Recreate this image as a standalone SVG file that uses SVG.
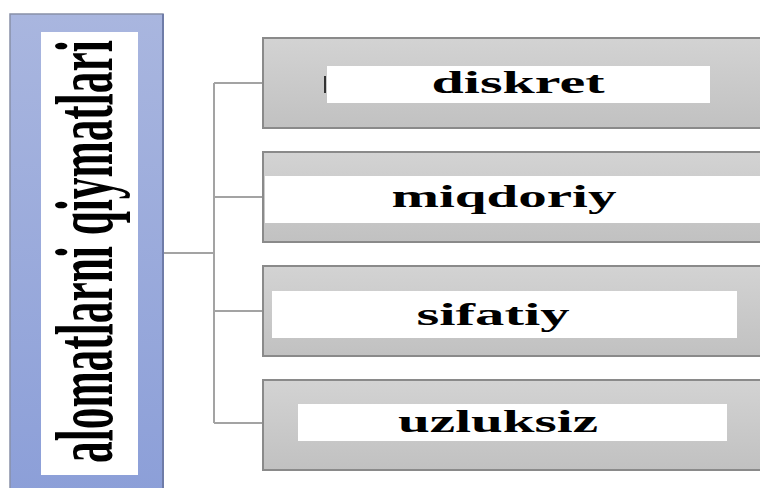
<svg xmlns="http://www.w3.org/2000/svg" width="760" height="488" viewBox="0 0 760 488">
<defs>
<linearGradient id="gBlue" x1="0" y1="0" x2="0" y2="1">
<stop offset="0" stop-color="#a9b6df"/>
<stop offset="1" stop-color="#8c9fd8"/>
</linearGradient>
<linearGradient id="gGray" x1="0" y1="0" x2="0" y2="1">
<stop offset="0" stop-color="#d3d3d3"/>
<stop offset="1" stop-color="#c1c1c1"/>
</linearGradient>
</defs>
<style>
.box{fill:url(#gGray);stroke:#8a8a8a;stroke-width:2}
.lbl{fill:#ffffff}
.t{font-family:"Liberation Serif","Times New Roman",serif;font-weight:bold;font-size:31px;fill:#000;text-anchor:middle}
.conn{fill:none;stroke:#a3a3a3;stroke-width:2}
</style>
<rect width="760" height="488" fill="#ffffff"/>
<g id="connectors">
<path class="conn" d="M163 253 H214 M214 83 V423 M214 83 H263 M214 197 H263 M214 311 H263 M214 423 H263"/>
</g>
<g id="root">
<rect x="10" y="14" width="153" height="480" fill="url(#gBlue)" stroke="#8890a8" stroke-width="1.5"/>
<line x1="163" y1="14" x2="163" y2="488" stroke="#6f7ca8" stroke-width="2"/>
<rect x="41" y="32" width="97" height="443" fill="#ffffff"/>
<text transform="translate(112,463) rotate(-90) scale(0.529,1)" font-family="Liberation Serif, Times New Roman, serif" font-weight="bold" font-size="82" fill="#000">alomatlarni qiymatlari</text>
</g>
<g id="n1">
<rect class="box" x="263" y="38" width="510" height="90"/>
<rect class="lbl" x="327" y="66" width="383" height="37"/>
<rect x="324" y="76" width="2" height="17" fill="#333"/>
<text class="t" x="518" y="93" textLength="173" lengthAdjust="spacingAndGlyphs">diskret</text>
</g>
<g id="n2">
<rect class="box" x="263" y="152" width="510" height="90"/>
<rect class="lbl" x="265" y="176" width="500" height="47"/>
<text class="t" x="504" y="207" textLength="225" lengthAdjust="spacingAndGlyphs">miqdoriy</text>
</g>
<g id="n3">
<rect class="box" x="263" y="266" width="510" height="90"/>
<rect class="lbl" x="272" y="291" width="465" height="47"/>
<text class="t" x="493" y="325" textLength="153" lengthAdjust="spacingAndGlyphs">sifatiy</text>
</g>
<g id="n4">
<rect class="box" x="263" y="380" width="510" height="90"/>
<rect class="lbl" x="298" y="404" width="429" height="37"/>
<text class="t" x="498" y="432" textLength="200" lengthAdjust="spacingAndGlyphs">uzluksiz</text>
</g>
</svg>
